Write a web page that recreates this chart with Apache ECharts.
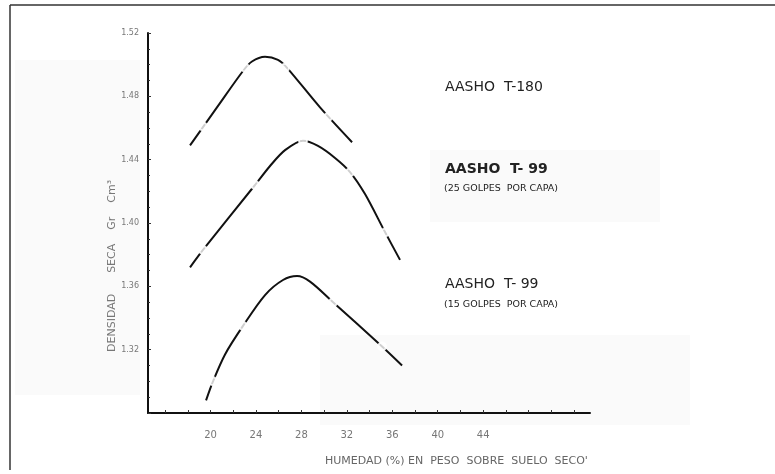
<!DOCTYPE html>
<html>
<head>
<meta charset="utf-8">
<script src="https://cdn.jsdelivr.net/npm/echarts@6/dist/echarts.min.js"></script>
<style>html,body{margin:0;padding:0;background:#fff}#c{width:775px;height:474px}</style>
</head>
<body>
<div id="c"></div>
<script>
// Humedad (%) vs densidad seca (g/cm3)
var xTickLabels = [20, 24, 28, 32, 36, 40, 44];
var xMinorTicks = [16, 18, 20, 22, 24, 26, 28, 30, 32, 34, 36, 38, 40, 42, 44, 46, 48, 50, 52];
var yTickLabels = [1.32, 1.36, 1.40, 1.44, 1.48, 1.52];

// AASHO T-180
var t180Curve = [[18.20,1.449],[20.57,1.473],[22.86,1.496],[23.65,1.502],[24.80,1.505],[25.94,1.503],[26.74,1.498],[29.64,1.473],[32.46,1.451]];
var t180Points = [[19.34,1.461],[23.04,1.498],[26.56,1.498],[30.35,1.467]];

// AASHO T-99 (25 golpes por capa)
var t99_25Curve = [[18.20,1.372],[19.34,1.383],[23.92,1.424],[25.24,1.436],[26.56,1.446],[28.14,1.452],[29.46,1.4487],[30.96,1.4411],[32.28,1.4322],[33.60,1.4183],[35.36,1.3943],[36.68,1.3767]];
var t99_25Points = [[19.34,1.383],[23.92,1.424],[28.14,1.452],[32.28,1.432],[35.36,1.394]];

// AASHO T-99 (15 golpes por capa)
var t99_15Curve = [[19.61,1.288],[20.22,1.300],[21.28,1.317],[22.86,1.335],[24.80,1.3545],[26.38,1.364],[27.62,1.3665],[28.76,1.363],[30.79,1.350],[35.10,1.322],[36.86,1.310]];
var t99_15Points = [[20.22,1.300],[22.86,1.335],[30.79,1.350],[35.10,1.322]];

var labels = [
  {text: 'AASHO  T-180', x: 445, y: 80, size: 14, weight: 'normal'},
  {text: 'AASHO  T- 99', x: 445, y: 162, size: 14, weight: 'bold'},
  {text: '(25 GOLPES  POR CAPA)', x: 444, y: 184, size: 9.5, weight: 'normal'},
  {text: 'AASHO  T- 99', x: 445, y: 277, size: 14, weight: 'normal'},
  {text: '(15 GOLPES  POR CAPA)', x: 444, y: 300, size: 9.5, weight: 'normal'}
];

var chart = echarts.init(document.getElementById('c'));
var lineStyle = {color: '#111', width: 2};
function curve(d){ return {type:'line', data:d, smooth:0.3, symbol:'none', lineStyle:lineStyle, z:2}; }
function pts(d){ return {type:'scatter', data:d, symbol:'emptyCircle', symbolSize:8, itemStyle:{color:'#fff', borderColor:'#555', borderWidth:1}, z:3}; }

var graphics = [
  {type:'rect', shape:{x:15,y:60,width:125,height:335}, style:{fill:'#fafafa'}, z:-10},
  {type:'rect', shape:{x:320,y:335,width:370,height:90}, style:{fill:'#fafafa'}, z:-10},
  {type:'rect', shape:{x:430,y:150,width:230,height:72}, style:{fill:'#fafafa'}, z:-10},
  {type:'line', shape:{x1:10,y1:5,x2:775,y2:5}, style:{stroke:'#333', lineWidth:1.5}},
  {type:'line', shape:{x1:10,y1:5,x2:10,y2:470}, style:{stroke:'#333', lineWidth:1.5}},
  {type:'text', left: 325, top: 456, style:{text:'HUMEDAD (%) EN  PESO  SOBRE  SUELO  SECO\'', fill:'#666', font:'11px "DejaVu Sans"'}},
  {type:'text', x: 107, y: 352, rotation: Math.PI/2, style:{text:'DENSIDAD      SECA    Gr    Cm³', fill:'#777', font:'11px "DejaVu Sans"'}}
];
labels.forEach(function(l){
  graphics.push({type:'text', left:l.x, top:l.y, style:{text:l.text, fill:'#222', font:l.weight+' '+l.size+'px "DejaVu Sans"'}});
});

chart.setOption({
  animation: false,
  backgroundColor: '#fff',
  grid: {left:148, top:33, right:185, bottom:61},
  xAxis: {
    type:'value', min:14.5, max:53.4,
    axisLine:{lineStyle:{color:'#111', width:2}},
    axisTick:{show:true, inside:true, length:3, lineStyle:{color:'#333'}, customValues:xMinorTicks},
    axisLabel:{customValues:xTickLabels, color:'#777', fontSize:10, margin:17, fontFamily:'DejaVu Sans'},
    splitLine:{show:false}
  },
  yAxis: {
    type:'value', min:1.28, max:1.52, interval:0.04,
    axisLine:{show:true, lineStyle:{color:'#111', width:2}},
    axisTick:{show:true, inside:true, length:3, lineStyle:{color:'#333'}},
    minorTick:{show:true, splitNumber:4, length:2, lineStyle:{color:'#333'}},
    axisLabel:{color:'#777', fontSize:8, margin:9, fontFamily:'DejaVu Sans',
      formatter:function(v){ var r=Math.round(v*100)/100; return yTickLabels.indexOf(r)>=0 ? r.toFixed(2) : ''; }},
    splitLine:{show:false}
  },
  graphic: graphics,
  series: [curve(t180Curve), pts(t180Points), curve(t99_25Curve), pts(t99_25Points), curve(t99_15Curve), pts(t99_15Points)]
});
</script>
</body>
</html>
